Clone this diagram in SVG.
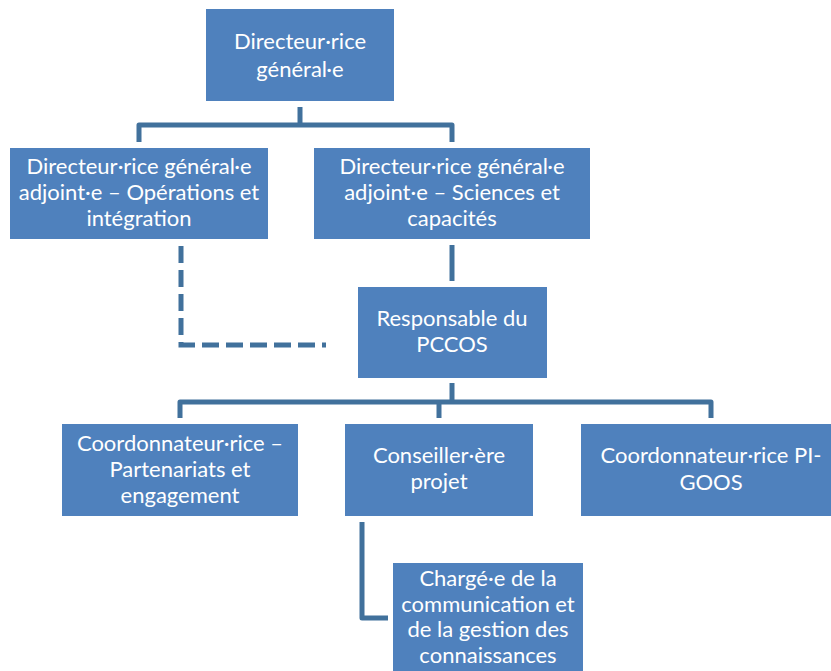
<svg xmlns="http://www.w3.org/2000/svg" width="831" height="671" viewBox="0 0 831 671">
<style>
.box{fill:#4F81BD;}
.t{font-family:Lato,"Liberation Sans",sans-serif;font-size:22px;fill:#FFFFFF;text-anchor:middle;}
.ln{fill:none;stroke:#41719C;stroke-width:5;stroke-linejoin:round;}
.dash{stroke-dasharray:17 7;stroke-linejoin:miter;}
</style>
<rect width="831" height="671" fill="#FFFFFF"/>
<g id="connectors">
<path class="ln" d="M300,107 V125"/>
<path class="ln" d="M139,142 V125 H452 V142"/>
<path class="ln" d="M452,245 V281"/>
<path class="ln" d="M452,383 V402"/>
<path class="ln" d="M180,418 V402 H711 V418"/>
<path class="ln" d="M439,402 V418"/>
<path class="ln" d="M362,522 V618 H388"/>
<path class="ln dash" d="M181,246 V345 H326"/>
</g>
<g id="n-dg">
<rect class="box" x="206" y="9" width="188" height="92"/>
<text class="t" x="300" y="49">Directeur·rice</text>
<text class="t" x="300" y="77">général·e</text>
</g>
<g id="n-dga-ops">
<rect class="box" x="10" y="148" width="258" height="91"/>
<text class="t" x="139" y="174">Directeur·rice général·e</text>
<text class="t" x="139" y="200">adjoint·e – Opérations et</text>
<text class="t" x="139" y="226">intégration</text>
</g>
<g id="n-dga-sci">
<rect class="box" x="314" y="148" width="276" height="91"/>
<text class="t" x="452" y="174">Directeur·rice général·e</text>
<text class="t" x="452" y="200">adjoint·e – Sciences et</text>
<text class="t" x="452" y="226">capacités</text>
</g>
<g id="n-pccos">
<rect class="box" x="358" y="287" width="189" height="91"/>
<text class="t" x="452" y="326">Responsable du</text>
<text class="t" x="452" y="352">PCCOS</text>
</g>
<g id="n-partenariats">
<rect class="box" x="62" y="424" width="236" height="92"/>
<text class="t" x="180" y="451">Coordonnateur·rice –</text>
<text class="t" x="180" y="477">Partenariats et</text>
<text class="t" x="180" y="503">engagement</text>
</g>
<g id="n-conseiller">
<rect class="box" x="345" y="424" width="188" height="92"/>
<text class="t" x="439" y="463">Conseiller·ère</text>
<text class="t" x="439" y="489">projet</text>
</g>
<g id="n-pigoos">
<rect class="box" x="581" y="424" width="250" height="92"/>
<text class="t" x="711" y="463">Coordonnateur·rice PI-</text>
<text class="t" x="711" y="490">GOOS</text>
</g>
<g id="n-charge">
<rect class="box" x="393" y="563" width="190" height="108"/>
<text class="t" x="488" y="586">Chargé·e de la</text>
<text class="t" x="488" y="612">communication et</text>
<text class="t" x="488" y="637">de la gestion des</text>
<text class="t" x="488" y="663">connaissances</text>
</g>
</svg>
